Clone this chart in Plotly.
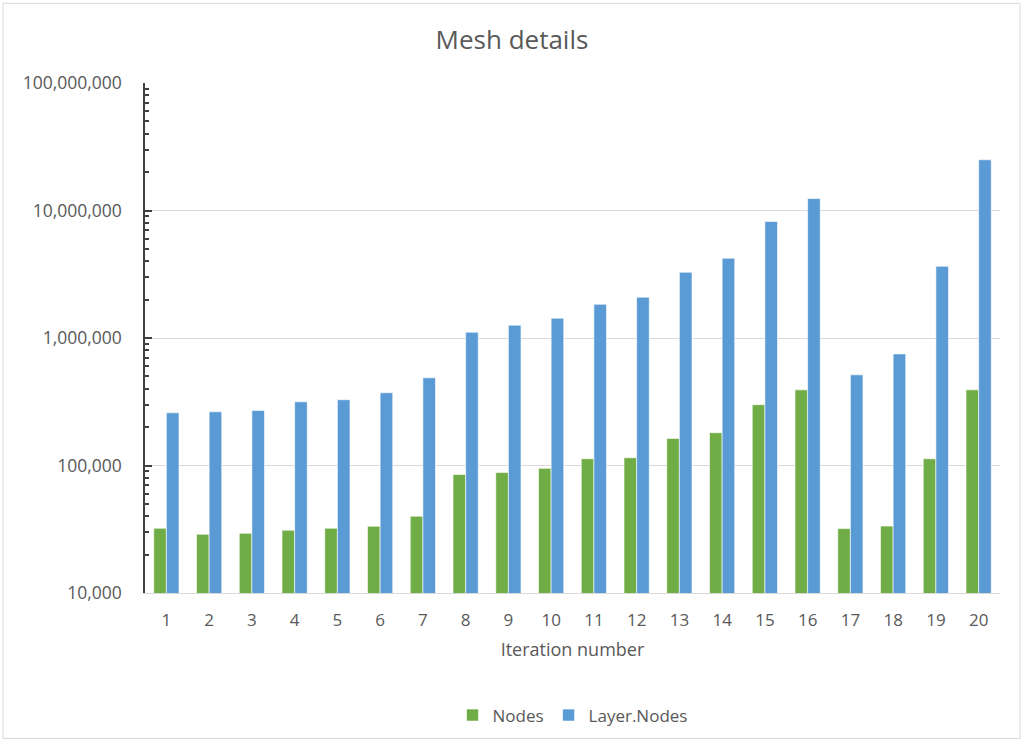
import plotly.graph_objects as go

iterations = [str(i) for i in range(1, 21)]
nodes = [32200, 28900, 29400, 31100, 32200, 33400, 40000, 85000, 88000, 95000,
         113000, 115000, 163000, 181000, 300000, 392000, 32000, 33500, 113000, 392000]
layer_nodes = [259000, 264000, 270000, 316000, 328000, 372000, 487000, 1110000, 1260000, 1430000,
               1840000, 2090000, 3280000, 4220000, 8200000, 12400000, 514000, 750000, 3650000, 25000000]
y_tickvals = [1e4, 1e5, 1e6, 1e7, 1e8]
y_ticktext = ["10,000", "100,000", "1,000,000", "10,000,000", "100,000,000"]

FONT = "Open Sans"
TXT = "#595959"

fig = go.Figure()
fig.add_trace(go.Bar(x=iterations, y=nodes, name="Nodes",
                     marker=dict(color="#70AD47", line=dict(color="rgba(255,255,255,0.6)", width=1))))
fig.add_trace(go.Bar(x=iterations, y=layer_nodes, name="Layer.Nodes",
                     marker=dict(color="#5B9BD5", line=dict(color="rgba(255,255,255,0.6)", width=1))))

L, R, T, B = 145, 24, 83, 150
W, H = 1024, 745
pw, ph = W - L - R, H - T - B

fig.update_layout(
    width=W, height=H,
    margin=dict(l=L, r=R, t=T, b=B),
    paper_bgcolor="white", plot_bgcolor="white",
    barmode="group", bargap=0.41, bargroupgap=0,
    font=dict(family=FONT, color=TXT, size=17),
    title=dict(text="Mesh details", x=0.5, xanchor="center", y=1 - 40 / H, yanchor="middle",
               font=dict(size=26, color=TXT, family=FONT)),
    legend=dict(orientation="h", x=0.5, xanchor="center", y=(595 - 718) / ph, yanchor="middle",
                font=dict(size=17, color=TXT), itemwidth=30, traceorder="normal"),
    xaxis=dict(type="category", showgrid=False, showline=True, linecolor="#D9D9D9", linewidth=1,
               ticks="outside", ticklen=12, tickcolor="rgba(0,0,0,0)",
               tickfont=dict(size=17, color=TXT),
               title=dict(text="Iteration number", font=dict(size=18, color=TXT), standoff=12)),
    yaxis=dict(type="log", range=[4, 8], tickvals=y_tickvals, ticktext=y_ticktext,
               showgrid=True, gridcolor="#D9D9D9", gridwidth=1,
               showline=True, linecolor="#404040", linewidth=1.5,
               ticks="inside", ticklen=7, tickcolor="#404040", tickwidth=1.5,
               tickfont=dict(size=17.5, color=TXT), ticklabelstandoff=18,
               minor=dict(ticks="inside", ticklen=4, tickcolor="#404040", tickwidth=1.5,
                          dtick="D1", showgrid=False)),
    shapes=[dict(type="rect", xref="paper", yref="paper",
                 x0=(3 - L) / pw, x1=(1020 - L) / pw, y0=(H - B - 741) / ph, y1=(H - B - 3) / ph,
                 line=dict(color="#D9D9D9", width=1), fillcolor="rgba(0,0,0,0)", layer="below")],
)

fig.write_html("out.html")
